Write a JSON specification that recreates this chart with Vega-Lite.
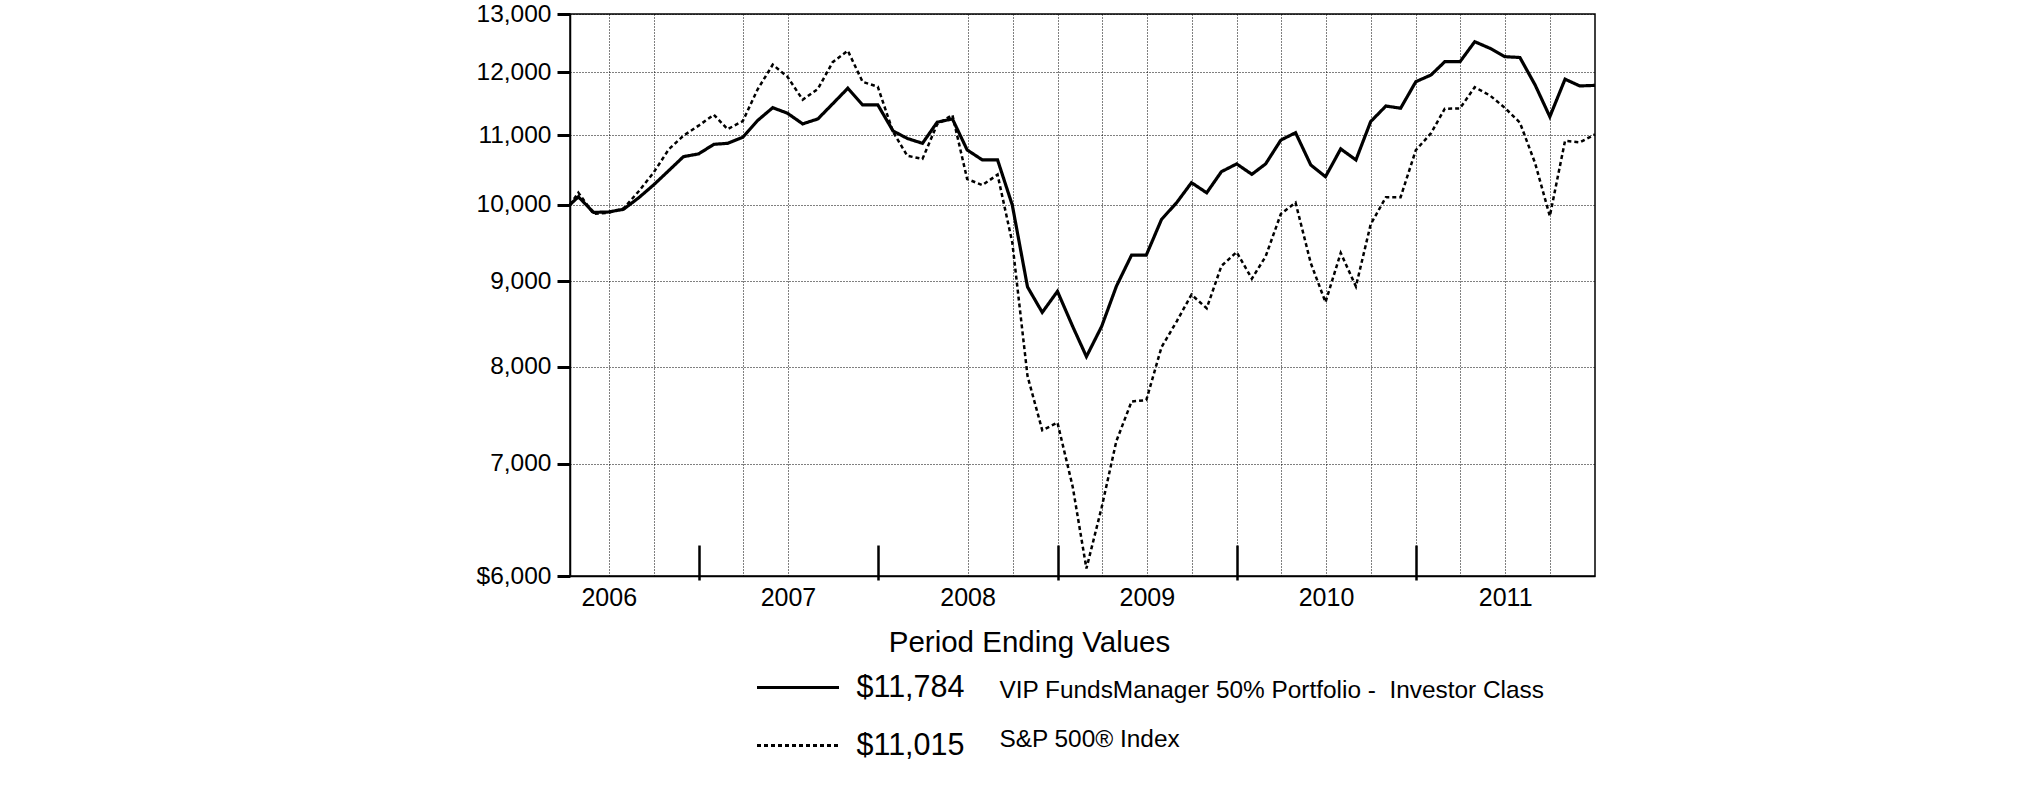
{
  "$schema": "https://vega.github.io/schema/vega-lite/v6.json",
  "autosize": {"type": "none"},
  "padding": {"left": 570, "top": 14, "right": 430, "bottom": 212},
  "width": 1025,
  "height": 562,
  "background": "white",
  "config": {
    "font": "Liberation Sans",
    "view": {"stroke": "black", "strokeWidth": 1.5},
    "axis": {"labelColor": "black", "labelFont": "Liberation Sans", "titleColor": "black"},
    "legend": {"padding": 0, "labelColor": "black", "labelFont": "Liberation Sans"}
  },
  "title": {
    "text": "Period Ending Values",
    "orient": "bottom",
    "anchor": "middle",
    "frame": "group",
    "font": "Liberation Sans",
    "fontSize": 29.5,
    "fontWeight": "normal",
    "color": "black",
    "baseline": "middle",
    "offset": -118,
    "dx": -53
  },
  "data": {
    "values": [
      {"date": "2006-04-13", "fund": 10000, "sp500": 10000},
      {"date": "2006-04-30", "fund": 10110, "sp500": 10167},
      {"date": "2006-05-31", "fund": 9895, "sp500": 9874},
      {"date": "2006-06-30", "fund": 9900, "sp500": 9888},
      {"date": "2006-07-31", "fund": 9937, "sp500": 9949},
      {"date": "2006-08-31", "fund": 10096, "sp500": 10186},
      {"date": "2006-09-30", "fund": 10274, "sp500": 10449},
      {"date": "2006-10-31", "fund": 10479, "sp500": 10790},
      {"date": "2006-11-30", "fund": 10683, "sp500": 10995},
      {"date": "2006-12-31", "fund": 10724, "sp500": 11149},
      {"date": "2007-01-31", "fund": 10866, "sp500": 11317},
      {"date": "2007-02-28", "fund": 10881, "sp500": 11095},
      {"date": "2007-03-31", "fund": 10972, "sp500": 11219},
      {"date": "2007-04-30", "fund": 11227, "sp500": 11716},
      {"date": "2007-05-31", "fund": 11428, "sp500": 12125},
      {"date": "2007-06-30", "fund": 11341, "sp500": 11924},
      {"date": "2007-07-31", "fund": 11176, "sp500": 11554},
      {"date": "2007-08-31", "fund": 11253, "sp500": 11727},
      {"date": "2007-09-30", "fund": 11488, "sp500": 12166},
      {"date": "2007-10-31", "fund": 11738, "sp500": 12359},
      {"date": "2007-11-30", "fund": 11472, "sp500": 11843},
      {"date": "2007-12-31", "fund": 11472, "sp500": 11761},
      {"date": "2008-01-31", "fund": 11068, "sp500": 11055},
      {"date": "2008-02-29", "fund": 10955, "sp500": 10696},
      {"date": "2008-03-31", "fund": 10881, "sp500": 10650},
      {"date": "2008-04-30", "fund": 11202, "sp500": 11169},
      {"date": "2008-05-31", "fund": 11253, "sp500": 11314},
      {"date": "2008-06-30", "fund": 10783, "sp500": 10360},
      {"date": "2008-07-31", "fund": 10635, "sp500": 10273},
      {"date": "2008-08-31", "fund": 10635, "sp500": 10422},
      {"date": "2008-09-30", "fund": 9995, "sp500": 9493},
      {"date": "2008-10-31", "fund": 8930, "sp500": 7899},
      {"date": "2008-11-30", "fund": 8623, "sp500": 7332},
      {"date": "2008-12-31", "fund": 8876, "sp500": 7410},
      {"date": "2009-01-31", "fund": 8458, "sp500": 6785},
      {"date": "2009-02-28", "fund": 8114, "sp500": 6062},
      {"date": "2009-03-31", "fund": 8458, "sp500": 6593},
      {"date": "2009-04-30", "fund": 8938, "sp500": 7224},
      {"date": "2009-05-31", "fund": 9331, "sp500": 7628},
      {"date": "2009-06-30", "fund": 9331, "sp500": 7643},
      {"date": "2009-07-31", "fund": 9800, "sp500": 8221},
      {"date": "2009-08-31", "fund": 10030, "sp500": 8518},
      {"date": "2009-09-30", "fund": 10308, "sp500": 8836},
      {"date": "2009-10-31", "fund": 10165, "sp500": 8672},
      {"date": "2009-11-30", "fund": 10465, "sp500": 9192},
      {"date": "2009-12-31", "fund": 10577, "sp500": 9369},
      {"date": "2010-01-31", "fund": 10427, "sp500": 9032},
      {"date": "2010-02-28", "fund": 10577, "sp500": 9312},
      {"date": "2010-03-31", "fund": 10929, "sp500": 9873},
      {"date": "2010-04-30", "fund": 11041, "sp500": 10029},
      {"date": "2010-05-31", "fund": 10562, "sp500": 9228},
      {"date": "2010-06-30", "fund": 10393, "sp500": 8745},
      {"date": "2010-07-31", "fund": 10798, "sp500": 9358},
      {"date": "2010-08-31", "fund": 10635, "sp500": 8936},
      {"date": "2010-09-30", "fund": 11211, "sp500": 9733},
      {"date": "2010-10-31", "fund": 11454, "sp500": 10103},
      {"date": "2010-11-30", "fund": 11419, "sp500": 10104},
      {"date": "2010-12-31", "fund": 11844, "sp500": 10779},
      {"date": "2011-01-31", "fund": 11954, "sp500": 11034},
      {"date": "2011-02-28", "fund": 12174, "sp500": 11412},
      {"date": "2011-03-31", "fund": 12174, "sp500": 11417},
      {"date": "2011-04-30", "fund": 12514, "sp500": 11755},
      {"date": "2011-05-31", "fund": 12401, "sp500": 11622},
      {"date": "2011-06-30", "fund": 12259, "sp500": 11428},
      {"date": "2011-07-31", "fund": 12245, "sp500": 11196},
      {"date": "2011-08-31", "fund": 11791, "sp500": 10588},
      {"date": "2011-09-30", "fund": 11287, "sp500": 9844},
      {"date": "2011-10-31", "fund": 11885, "sp500": 10920},
      {"date": "2011-11-30", "fund": 11775, "sp500": 10896},
      {"date": "2011-12-31", "fund": 11784, "sp500": 11015}
    ]
  },
  "transform": [
    {"fold": ["fund", "sp500"], "as": ["key", "value"]},
    {
      "lookup": "key",
      "from": {
        "data": {
          "values": [
            {"key": "fund", "series": "VIP FundsManager 50% Portfolio - \u00a0Investor Class", "ending": "$11,784"},
            {"key": "sp500", "series": "S&P 500® Index", "ending": "$11,015"}
          ]
        },
        "key": "key",
        "fields": ["series", "ending"]
      }
    }
  ],
  "encoding": {
    "y": {
      "field": "value",
      "type": "quantitative",
      "scale": {"type": "log", "domain": [6000, 13000], "nice": false, "zero": false},
      "axis": {
        "title": null,
        "values": [6000, 7000, 8000, 9000, 10000, 11000, 12000, 13000],
        "labelExpr": "datum.value == 6000 ? '$6,000' : format(datum.value, ',')",
        "labelFontSize": 24.5,
        "labelPadding": 6,
        "tickSize": 13,
        "tickWidth": 3,
        "tickColor": "black",
        "domainColor": "black",
        "domainWidth": 1.5,
        "grid": true,
        "gridColor": "black",
        "gridDash": [1, 2],
        "gridWidth": 1
      }
    },
    "strokeDash": {
      "field": "ending",
      "type": "nominal",
      "scale": {"domain": ["$11,784", "$11,015"], "range": [[1, 0], [4, 3]]},
      "legend": {
        "orient": "none",
        "legendX": 185.5,
        "legendY": 659,
        "title": null,
        "symbolType": "stroke",
        "symbolSize": 6724,
        "symbolStrokeWidth": 3,
        "symbolStrokeColor": "black",
        "labelFontSize": 30.5,
        "labelOffset": 16,
        "clipHeight": 29,
        "rowPadding": 27
      }
    },
    "color": {
      "field": "series",
      "type": "nominal",
      "scale": {"domain": ["VIP FundsManager 50% Portfolio - \u00a0Investor Class", "S&P 500® Index"], "range": ["black", "black"]},
      "legend": {
        "orient": "none",
        "legendX": 405,
        "legendY": 664,
        "title": null,
        "symbolType": "circle",
        "symbolSize": 1,
        "symbolOpacity": 0,
        "labelFontSize": 24.4,
        "labelOffset": 0,
        "labelLimit": 800,
        "clipHeight": 25,
        "rowPadding": 23
      }
    }
  },
  "layer": [
    {
      "transform": [{"filter": "datum.key == 'fund'"}],
      "mark": {"type": "line", "strokeWidth": 3.2, "strokeJoin": "miter"},
      "encoding": {
        "x": {
          "field": "date",
          "type": "temporal",
          "scale": {"domain": ["2006-04-13", "2011-12-31"]},
          "axis": {
            "orient": "bottom",
            "title": null,
            "values": ["2006-07-01", "2006-10-01", "2007-04-01", "2007-07-01", "2008-07-01", "2008-10-01", "2009-01-01", "2009-04-01", "2009-07-01", "2009-10-01", "2010-01-01", "2010-04-01", "2010-07-01", "2010-10-01", "2011-01-01", "2011-04-01", "2011-07-01", "2011-10-01"],
            "labelExpr": "utcmonth(datum.value) == 6 ? utcFormat(datum.value, '%Y') : ''",
            "labelFontSize": 25,
            "labelPadding": 9,
            "labelBaseline": "top",
            "ticks": false,
            "tickSize": 0,
            "domainColor": "black",
            "domainWidth": 1.5,
            "grid": true,
            "gridColor": "black",
            "gridDash": [1, 2],
            "gridWidth": 1,
            "labelOverlap": false
          }
        }
      }
    },
    {
      "transform": [{"filter": "datum.key == 'sp500'"}],
      "mark": {"type": "line", "strokeWidth": 2.5},
      "encoding": {
        "x": {
          "field": "date",
          "type": "temporal",
          "axis": {
            "orient": "bottom",
            "title": null,
            "values": ["2007-01-01", "2008-01-01", "2009-01-01", "2010-01-01", "2011-01-01"],
            "labels": false,
            "domain": false,
            "grid": false,
            "ticks": true,
            "offset": 4,
            "tickSize": -35,
            "tickWidth": 2.5,
            "tickColor": "black"
          }
        }
      }
    }
  ],
  "resolve": {"axis": {"x": "independent"}}
}
